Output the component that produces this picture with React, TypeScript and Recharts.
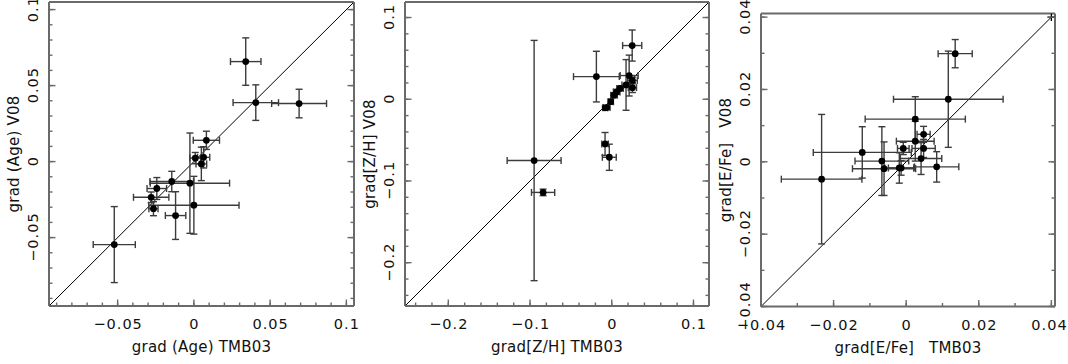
import React from 'react';
import { ScatterChart, Scatter, XAxis, YAxis, ErrorBar, ReferenceLine } from 'recharts';

// ---------- Panel 1: grad (Age) ----------
const ageX = [0.034, 0.0406, 0.069, 0.0082, 0.0009, 0.0064, 0.0049, -0.0145, -0.0026, 0.0, -0.0243, -0.028, -0.0265, -0.012, -0.0522];
const ageY = [0.0658, 0.0388, 0.0382, 0.014, 0.0023, 0.0028, -0.0015, -0.0131, -0.0142, -0.0287, -0.0177, -0.0235, -0.031, -0.0355, -0.0546];
const ageXErr = [0.01, 0.0149, 0.018, 0.0086, 0.0035, 0.004, 0.0035, 0.0143, 0.026, 0.0296, 0.0064, 0.0116, 0.003, 0.0067, 0.0138];
const ageYErr = [0.0156, 0.0117, 0.0094, 0.006, 0.0037, 0.007, 0.011, 0.0067, 0.033, 0.019, 0.0072, 0.0035, 0.0046, 0.0157, 0.025];
const ageTicks = [-0.09, -0.08, -0.07, -0.06, -0.05, -0.04, -0.03, -0.02, -0.01, 0, 0.01, 0.02, 0.03, 0.04, 0.05, 0.06, 0.07, 0.08, 0.09, 0.1];
const ageMajor = [-0.05, 0, 0.05, 0.1];

// ---------- Panel 2: grad [Z/H] ----------
const zhX = [-0.095, -0.084, -0.0188, 0.025, -0.0082, -0.003, 0.0213, 0.0175, 0.0253, 0.0253, 0.0102, 0.006, 0.0028, -0.0012, -0.0061, -0.008];
const zhY = [-0.075, -0.114, 0.0277, 0.0657, -0.0547, -0.071, 0.029, 0.0175, 0.023, 0.0142, 0.0133, 0.009, 0.005, -0.003, -0.0102, -0.0105];
const zhXErr = [0.033, 0.0142, 0.028, 0.0117, 0.004, 0.0085, 0.011, 0.005, 0.006, 0.005, 0.004, 0.004, 0.004, 0.003, 0.004, 0.003];
const zhYErr = [0.147, 0.004, 0.031, 0.019, 0.014, 0.016, 0.025, 0.031, 0.004, 0.006, 0.003, 0.003, 0.003, 0.003, 0.002, 0.002];
const zhTicks = [-0.24, -0.22, -0.2, -0.18, -0.16, -0.14, -0.12, -0.1, -0.08, -0.06, -0.04, -0.02, 0, 0.02, 0.04, 0.06, 0.08, 0.1];
const zhMajor = [-0.2, -0.1, 0, 0.1];

// ---------- Panel 3: grad [E/Fe] ----------
const efX = [0.0116, 0.0025, 0.0048, 0.0025, -0.0008, 0.0048, 0.0041, 0.0084, -0.0019, -0.0014, -0.0061, -0.0067, -0.0121, -0.0233, 0.0135];
const efY = [0.0173, 0.0118, 0.0076, 0.0057, 0.0037, 0.0037, 0.0009, -0.0014, -0.0017, -0.0017, -0.0019, 0.0002, 0.0026, -0.0048, 0.0299];
const efXErr = [0.0151, 0.0138, 0.0018, 0.0052, 0.0016, 0.0032, 0.0057, 0.0061, 0.004, 0.0035, 0.0087, 0.0074, 0.0135, 0.0111, 0.0047];
const efYErr = [0.0133, 0.0062, 0.0022, 0.0055, 0.0017, 0.0025, 0.0044, 0.0042, 0.0042, 0.002, 0.0074, 0.0095, 0.0071, 0.0179, 0.0039];
const efTicks = [-0.04, -0.03, -0.02, -0.01, 0, 0.01, 0.02, 0.03, 0.04];
const efMajor = [-0.04, -0.02, 0, 0.02, 0.04];
const efMarkX = [0.04];
const efMarkY = [0.04];

const FONT = '"DejaVu Sans", sans-serif';
const FRAME = '#6a6a6a';
const BAR = '#3c3c3c';
const LS = 1;
const TS = 3.5; // native (minor) inward tick length
const MAJ = 6.5; // major tick length

const fmt = (v: number) => (Math.abs(v) < 1e-12 ? '0' : (v < 0 ? '\u2212' : '') + String(Math.abs(v)));
const isMajor = (v: number, majors: number[]) => majors.some((m) => Math.abs(m - v) < 1e-9);

const build = (xs: number[], ys: number[], xe: number[], ye: number[]) =>
  xs.map((x, i) => ({ x, y: ys[i], xe: xe[i], ye: ye[i] }));

const labelStyle = { fontFamily: FONT, fontSize: 14.5, fill: '#111', letterSpacing: LS } as any;

// native tick line goes from the frame inward by TS, and the tick props x/y sit at its inner end
const bottomTick = (majors: number[], maxX: number) => (p: any) => {
  const v = p.payload.value;
  const maj = isMajor(v, majors);
  const y0 = p.y + TS;
  const lx = Math.min(p.x, maxX);
  return (
    <g>
      {maj && <path d={`M${p.x},${y0}V${y0 - MAJ}`} stroke={FRAME} strokeWidth={1.4} fill="none" />}
      {maj && (
        <text x={lx + LS / 2} y={y0 + 18} textAnchor="middle" dominantBaseline="central" style={labelStyle}>
          {fmt(v)}
        </text>
      )}
    </g>
  );
};
const topTick = (majors: number[]) => (p: any) => {
  const v = p.payload.value;
  const maj = isMajor(v, majors);
  const y0 = p.y - TS;
  return <g>{maj && <path d={`M${p.x},${y0}V${y0 + MAJ}`} stroke={FRAME} strokeWidth={1.4} fill="none" />}</g>;
};
const leftTick = (majors: number[]) => (p: any) => {
  const v = p.payload.value;
  const maj = isMajor(v, majors);
  const x0 = p.x - TS;
  const tx = x0 - 16;
  return (
    <g>
      {maj && <path d={`M${x0},${p.y}H${x0 + MAJ}`} stroke={FRAME} strokeWidth={1.4} fill="none" />}
      {maj && (
        <text
          x={tx + LS / 2}
          y={p.y}
          textAnchor="middle"
          dominantBaseline="central"
          transform={`rotate(-90, ${tx}, ${p.y})`}
          style={labelStyle}
        >
          {fmt(v)}
        </text>
      )}
    </g>
  );
};
const rightTick = (majors: number[]) => (p: any) => {
  const v = p.payload.value;
  const maj = isMajor(v, majors);
  const x0 = p.x + TS;
  return <g>{maj && <path d={`M${x0},${p.y}H${x0 - MAJ}`} stroke={FRAME} strokeWidth={1.4} fill="none" />}</g>;
};

const Dot = (p: any) => <circle cx={p.cx} cy={p.cy} r={3.4} fill="#000" />;
const Plus = (p: any) => (
  <g>
    <line x1={p.cx - 4} x2={p.cx + 4} y1={p.cy} y2={p.cy} stroke="#000" strokeWidth={1.3} />
    <line x1={p.cx} x2={p.cx} y1={p.cy - 4} y2={p.cy + 4} stroke="#000" strokeWidth={1.3} />
  </g>
);

type PanelProps = {
  plotL: number;
  plotR: number;
  plotT: number;
  plotB: number;
  padR: number;
  domain: [number, number];
  ticks: number[];
  majors: number[];
  data: any[];
  diag: [number, number];
  mark?: any[];
};

const H = 364;
const YW = 45;
const XH = 50;

function Panel({ plotL, plotR, plotT, plotB, padR, domain, ticks, majors, data, diag, mark }: PanelProps) {
  const chartLeft = plotL - YW - 4;
  const width = plotR + padR - chartLeft;
  const margin = { top: plotT - 1, right: padR - 1, left: 4, bottom: H - plotB - XH };
  const axisLine = { stroke: FRAME, strokeWidth: 2 };
  const tickLine = { stroke: FRAME, strokeWidth: 1.4 };
  const common = {
    type: 'number' as const,
    domain,
    ticks,
    interval: 0 as const,
    allowDataOverflow: true,
    tickSize: -TS,
    tickMargin: 0,
    tickLine,
    axisLine,
  };
  return (
    <div style={{ position: 'absolute', left: chartLeft, top: 0, width, height: H }}>
      <ScatterChart width={width} height={H} margin={margin}>
        <XAxis xAxisId={0} dataKey="x" height={XH} tick={bottomTick(majors, width - 19)} {...common} />
        <XAxis xAxisId="top" orientation="top" height={1} tick={topTick(majors)} {...common} />
        <YAxis yAxisId={0} dataKey="y" width={YW} tick={leftTick(majors)} {...common} />
        <YAxis yAxisId="right" orientation="right" width={1} tick={rightTick(majors)} {...common} />
        <ReferenceLine
          xAxisId={0}
          yAxisId={0}
          segment={[
            { x: diag[0], y: diag[0] },
            { x: diag[1], y: diag[1] },
          ]}
          stroke="#000"
          strokeWidth={1}
          ifOverflow="visible"
        />
        <Scatter xAxisId={0} yAxisId={0} data={data} shape={Dot} isAnimationActive={false}>
          <ErrorBar dataKey="xe" direction="x" width={3.5} stroke={BAR} strokeWidth={1.4} isAnimationActive={false} />
          <ErrorBar dataKey="ye" direction="y" width={3.5} stroke={BAR} strokeWidth={1.4} isAnimationActive={false} />
        </Scatter>
        {mark && <Scatter xAxisId={0} yAxisId={0} data={mark} shape={Plus} isAnimationActive={false} />}
      </ScatterChart>
    </div>
  );
}

const titleStyle = { fontFamily: FONT, fontSize: 15, fill: '#111', whiteSpace: 'pre', letterSpacing: 0.2 } as any;

export default function App() {
  const p1 = { plotL: 49, plotR: 354, plotT: 2, plotB: 306, padR: 20 };
  const p2 = { plotL: 405, plotR: 709, plotT: 2, plotB: 306, padR: 20 };
  const p3 = { plotL: 761, plotR: 1055, plotT: 13.5, plotB: 306.5, padR: 13 };
  const titles = [
    { p: p1, xt: 'grad (Age) TMB03', yt: 'grad (Age) V08' },
    { p: p2, xt: 'grad[Z/H] TMB03', yt: 'grad[Z/H] V08' },
    { p: p3, xt: 'grad[E/Fe]   TMB03', yt: 'grad[E/Fe]   V08' },
  ];
  return (
    <div style={{ position: 'absolute', left: 0, top: 0, width: 1068, height: H, background: '#fff', overflow: 'hidden' }}>
      <Panel {...p1} domain={[-0.095, 0.105]} ticks={ageTicks} majors={ageMajor} data={build(ageX, ageY, ageXErr, ageYErr)} diag={[-0.095, 0.105]} />
      <Panel {...p2} domain={[-0.253, 0.119]} ticks={zhTicks} majors={zhMajor} data={build(zhX, zhY, zhXErr, zhYErr)} diag={[-0.253, 0.119]} />
      <Panel
        {...p3}
        domain={[-0.04, 0.041]}
        ticks={efTicks}
        majors={efMajor}
        data={build(efX, efY, efXErr, efYErr)}
        diag={[-0.04, 0.04]}
        mark={efMarkX.map((x, i) => ({ x, y: efMarkY[i] }))}
      />
      <svg width={1068} height={H} style={{ position: 'absolute', left: 0, top: 0, pointerEvents: 'none' }}>
        {titles.map(({ p, xt, yt }, i) => {
          const cx = (p.plotL + p.plotR) / 2;
          const cy = (p.plotT + p.plotB) / 2;
          const tx = p.plotL - 35.5;
          return (
            <g key={i}>
              <text x={cx} y={p.plotB + 41} textAnchor="middle" dominantBaseline="central" style={titleStyle}>
                {xt}
              </text>
              <text
                x={tx}
                y={cy}
                textAnchor="middle"
                dominantBaseline="central"
                transform={`rotate(-90, ${tx}, ${cy})`}
                style={titleStyle}
              >
                {yt}
              </text>
            </g>
          );
        })}
      </svg>
    </div>
  );
}
